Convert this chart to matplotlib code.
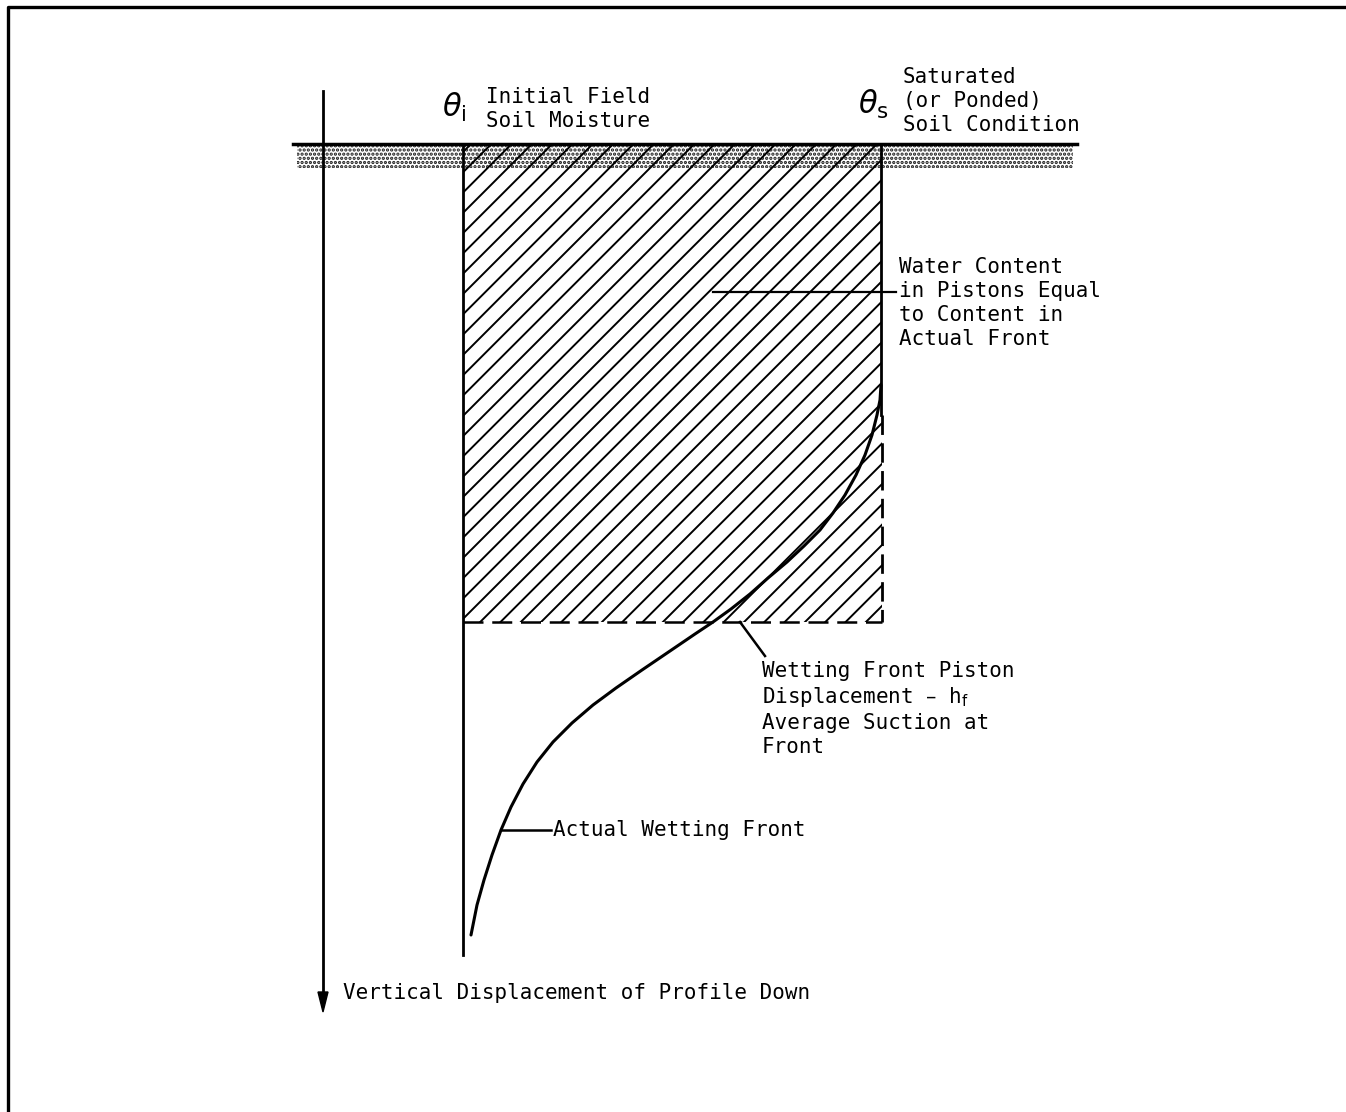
import matplotlib.pyplot as plt
import numpy as np
from matplotlib.patches import Rectangle, Polygon

# Diagram drawn in pixel-like units (x to the right, depth downward)
theta_i = 463          # initial field soil moisture
theta_s = 881          # saturated soil moisture
surface = 144          # ground surface
piston_depth = 622     # wetting front piston displacement
profile_top, profile_bottom = 91, 1012
axis_x = 323

# actual wetting front
front_theta = [881, 880, 877, 872, 865, 856, 845, 833, 820, 804, 787, 768,
               750, 731, 713, 695, 670, 642, 616, 593, 572, 553, 537, 523,
               511, 501, 492, 484, 477, 471]
front_depth = [385, 400, 415, 435, 455, 475, 495, 513, 530, 546, 562, 578,
               594, 609, 622, 634, 651, 670, 688, 705, 723, 742, 762, 784,
               807, 830, 855, 880, 905, 935]

plt.rcParams['font.family'] = ['DejaVu Sans Mono', 'DejaVu Sans']
plt.rcParams['hatch.linewidth'] = 1.6
fig = plt.figure(figsize=(13.46, 11.12), dpi=100)
ax = fig.add_axes([0, 0, 1, 1])
ax.set_xlim(0, 1346)
ax.set_ylim(1112, 0)
ax.axis('off')

# frame
ax.plot([8, 8, 1346], [1112, 7, 7], color='black', lw=2.4, solid_capstyle='butt')

# stippled soil band
band = Rectangle((297, surface + 2), 1073 - 297, 22, facecolor='white',
                 edgecolor='0.1', hatch='....', lw=0)
ax.add_patch(band)
ax.plot([293, 1077], [surface, surface], color='black', lw=2.5)

# hatched piston region
clip = Rectangle((theta_i, surface), theta_s + 1 - theta_i, piston_depth - surface,
                 facecolor='none', edgecolor='none')
ax.add_patch(clip)
for c in np.arange(theta_i + surface + 8, theta_s + piston_depth + 20, 20.3):
    ln, = ax.plot([c - 700, c], [700, 0], color='black', lw=1.4)
    ln.set_clip_path(clip)

# depth axis arrow
ax.plot([axis_x, axis_x], [profile_top, profile_bottom - 15], color='black', lw=2)
ax.add_patch(Polygon([[axis_x - 5, profile_bottom - 20], [axis_x + 5, profile_bottom - 20],
                      [axis_x, profile_bottom]], closed=True, color='black'))

# theta_i and theta_s lines
ax.plot([theta_i, theta_i], [surface, 955], color='black', lw=2)
ax.plot([theta_s, theta_s], [surface, 415], color='black', lw=2)
ax.plot([theta_s + 1, theta_s + 1], [415, piston_depth], color='black', lw=2,
        dashes=(7, 3))
ax.plot([theta_i, theta_s + 1], [piston_depth, piston_depth], color='black', lw=1.8,
        dashes=(8, 3.5))

# actual wetting front
ax.plot(front_theta, front_depth, color='black', lw=2.2, solid_capstyle='round',
        solid_joinstyle='round')

# leaders
ax.plot([713, 896], [292, 292], color='black', lw=1.6)
ax.plot([740, 765], [622, 656], color='black', lw=1.8)
ax.plot([501, 551], [830, 830], color='black', lw=1.8)

fs = 15
ls = 1.25
ax.text(442, 107, r'$\theta_{\rm i}$', fontsize=22, ha='left', va='center',
        family='DejaVu Sans')
ax.text(486, 109, 'Initial Field\nSoil Moisture', fontsize=fs, ha='left', va='center',
        linespacing=ls)
ax.text(858, 104, r'$\theta_{\rm s}$', fontsize=22, ha='left', va='center',
        family='DejaVu Sans')
ax.text(903, 101, 'Saturated\n(or Ponded)\nSoil Condition', fontsize=fs, ha='left',
        va='center', linespacing=ls)
ax.text(899, 303, 'Water Content\nin Pistons Equal\nto Content in\nActual Front',
        fontsize=fs, ha='left', va='center', linespacing=ls)
ax.text(762, 709, 'Wetting Front Piston\nDisplacement \u2013 h$_{\\rm f}$\n'
        'Average Suction at\nFront', fontsize=fs, ha='left', va='center',
        linespacing=ls)
ax.text(553, 830, 'Actual Wetting Front', fontsize=fs, ha='left', va='center')
ax.text(343, 993, 'Vertical Displacement of Profile Down', fontsize=fs, ha='left',
        va='center')

fig.savefig('out.png', dpi=100)
